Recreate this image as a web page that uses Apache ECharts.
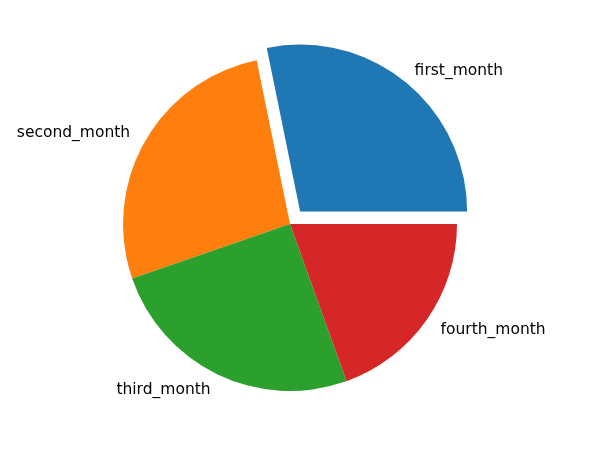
<!DOCTYPE html>
<html>
<head>
<meta charset="utf-8">
<script src="https://cdn.jsdelivr.net/npm/echarts@6/dist/echarts.min.js"></script>
<style>
  html, body { margin: 0; padding: 0; background: #fff; }
  #main { width: 594px; height: 453px; }
</style>
</head>
<body>
<div id="main"></div>
<script>
// pie data
var months = ['first_month', 'second_month', 'third_month', 'fourth_month']
var values = [28.2, 27.1, 25.2, 19.5]
var colors = ['#1f77b4', '#ff7f0e', '#2ca02c', '#d62728']
var exploded = [true, false, false, false]

var chart = echarts.init(document.getElementById('main'))
chart.setOption({
  animation: false,
  series: [{
    type: 'pie',
    center: [290, 224],
    radius: 167,
    startAngle: 0,
    clockwise: false,
    selectedMode: 'single',
    selectedOffset: 16,
    avoidLabelOverlap: false,
    label: {
      show: true,
      position: 'outside',
      fontFamily: 'DejaVu Sans',
      fontSize: 15.5,
      color: '#000',
      verticalAlign: 'middle',
      distanceToLabelLine: 0
    },
    labelLine: { show: false, length: 17, length2: 0 },
    emphasis: { disabled: true },
    data: months.map(function (m, i) {
      var item = {
        name: m,
        value: values[i],
        selected: exploded[i],
        itemStyle: { color: colors[i] }
      }
      // the exploded wedge's label sits a little closer in
      if (exploded[i]) item.labelLine = { show: false, length: 14, length2: 0 }
      return item
    })
  }]
})
</script>
</body>
</html>
